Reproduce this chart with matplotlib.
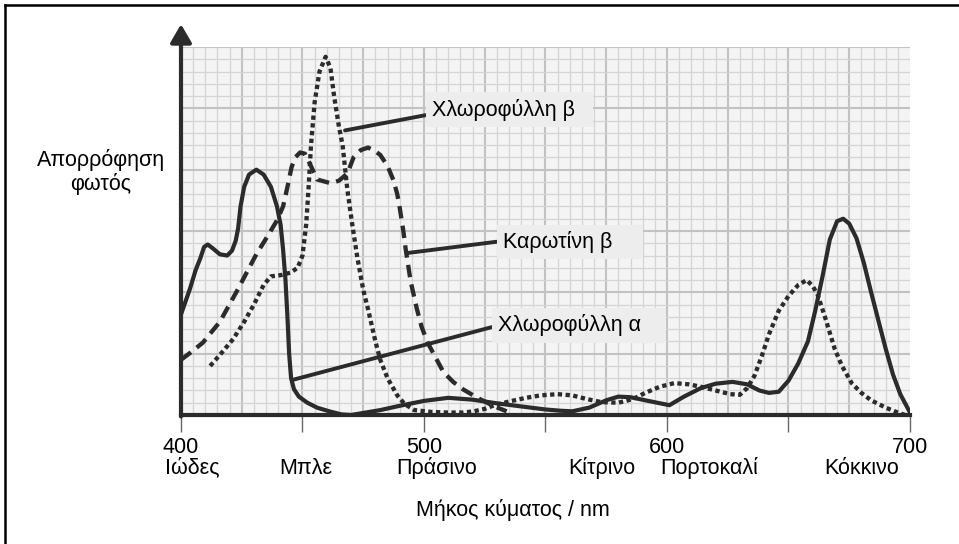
import numpy as np
import matplotlib
matplotlib.use("Agg")
import matplotlib.pyplot as plt
from matplotlib import font_manager
from matplotlib.lines import Line2D
from matplotlib.transforms import blended_transform_factory

# --- data (wavelength nm, absorbance in grid squares) ---
chl_a_nm = [400, 403.7, 406, 408, 409.5, 411, 413, 416, 419, 421, 422.5, 423.5, 424.5, 426,
            428, 431, 434, 437, 439.5, 441, 442, 443, 443.8, 444.5, 445.3, 446.5, 448.5,
            452, 456, 461, 466, 470, 476, 482, 490, 500, 510, 520, 530, 540, 550, 556,
            561, 568, 575, 580, 585, 591, 596, 601, 607, 614, 620, 627, 633, 638, 642,
            646, 650, 654, 658, 661, 664, 667, 670, 672.5, 675, 678, 681, 684, 687, 690,
            693, 696, 700]
chl_a_abs = [8.2, 10.3, 11.8, 12.8, 13.7, 13.9, 13.6, 13.1, 13.0, 13.4, 14.2, 15.2, 17.0,
             18.6, 19.6, 20.0, 19.6, 18.6, 17.0, 15.5, 13.5, 11.0, 8.0, 5.0, 3.0, 2.1, 1.5,
             1.0, 0.6, 0.3, 0.05, 0.0, 0.2, 0.4, 0.75, 1.15, 1.4, 1.25, 0.95, 0.7, 0.45,
             0.35, 0.3, 0.6, 1.2, 1.5, 1.45, 1.2, 1.0, 0.8, 1.5, 2.2, 2.55, 2.7, 2.5, 2.0,
             1.8, 1.9, 2.8, 4.2, 6.0, 8.5, 11.3, 14.3, 15.8, 16.0, 15.6, 14.4, 12.4, 10.0,
             7.7, 5.4, 3.3, 1.7, 0.2]

chl_b_nm = [412, 416, 421.5, 426, 430, 434, 437, 441, 445, 448, 450, 451.5, 452.5, 453.5,
            455, 457, 459.5, 461.5, 463, 465, 466.5, 468.5, 470.5, 472.6, 475, 477, 480,
            482, 485, 489, 492, 496, 503, 510, 516, 520.5, 525, 529, 535, 542, 548, 555,
            561, 567, 573, 580, 586, 591, 597, 603, 609, 614, 620, 626, 630, 633, 636,
            639, 642, 646, 650, 654, 657.5, 660, 662, 665, 669, 672, 676, 680, 684, 690,
            695, 698]
chl_b_abs = [4.0, 4.9, 6.2, 7.6, 9.0, 10.6, 11.3, 11.4, 11.6, 12.0, 13.0, 15.5, 18.5, 22.0,
             25.5, 28.0, 29.2, 28.3, 26.0, 23.5, 22.0, 18.3, 15.5, 12.8, 10.2, 8.6, 6.0,
             4.5, 3.0, 1.6, 0.9, 0.4, 0.25, 0.2, 0.2, 0.3, 0.5, 0.8, 1.1, 1.4, 1.6, 1.7,
             1.6, 1.3, 1.05, 1.0, 1.3, 1.8, 2.3, 2.6, 2.5, 2.3, 2.0, 1.7, 1.65, 2.2, 3.2,
             4.8, 6.6, 8.5, 9.7, 10.6, 11.0, 10.5, 9.8, 8.0, 5.4, 4.0, 2.6, 1.8, 1.2, 0.6,
             0.2, 0.0]

carot_nm = [400, 404, 409, 416, 423, 431, 436, 439.6, 442, 443.7, 445.5, 447, 449, 451,
            453, 456, 461.5, 465, 468.5, 471, 474, 477, 480, 482, 485, 487.5, 489, 490,
            491.5, 492.4, 494.5, 497, 499, 501.5, 505, 508, 512, 516, 522, 529, 534]
carot_abs = [4.5, 5.1, 5.9, 7.6, 10.1, 13.1, 14.7, 15.9, 17.0, 18.5, 20.2, 21.0, 21.4,
             21.3, 20.5, 19.2, 18.9, 19.1, 19.7, 21.0, 21.6, 21.8, 21.5, 21.2, 20.3, 19.1,
             18.0, 16.9, 15.0, 13.6, 10.9, 8.7, 7.2, 5.9, 4.6, 3.5, 2.7, 2.1, 1.4, 0.7, 0.3]

tick_nm = [400, 450, 500, 550, 600, 650, 700]
tick_labels = ["400", "", "500", "", "600", "", "700"]
band_names = ["Ιώδες", "Μπλε", "Πράσινο", "Κίτρινο", "Πορτοκαλί", "Κόκκινο"]
band_nm = [404.5, 451.4, 505.3, 573.2, 617.3, 680.2]

names = {f.name for f in font_manager.fontManager.ttflist}
if "Liberation Sans Narrow" in names:
    fam = ["Liberation Sans Narrow", "DejaVu Sans"]
    fs = 17
else:
    fam = ["Liberation Sans", "DejaVu Sans"]
    fs = 15.5
plt.rcParams["font.family"] = fam

W, H = 959, 544
fig = plt.figure(figsize=(W / 100, H / 100), dpi=100)
fig.patch.set_facecolor("white")
ax = fig.add_axes([181 / W, 1 - 415 / H, 729 / W, 368 / H])
ax.set_facecolor("#f4f4f4")
ax.set_xlim(400, 700)
ax.set_ylim(0, 30)

# graph paper
for v in np.arange(405, 700, 5):
    major = (v - 400) % 25 == 0
    ax.axvline(v, color="#c2c2c2" if major else "#d4d4d4", lw=1.5 if major else 0.9, zorder=1)
for v in np.arange(1, 31, 1):
    major = v % 5 == 0
    ax.axhline(v, color="#c2c2c2" if major else "#d4d4d4", lw=1.5 if major else 0.9, zorder=1)

ink = "#2b2b2b"
ax.plot(chl_a_nm, chl_a_abs, color=ink, lw=3.0, solid_joinstyle="round", zorder=4)
ax.plot(chl_b_nm, chl_b_abs, color=ink, lw=3.1, linestyle=(0, (1, 0.8)),
        dash_capstyle="butt", zorder=3)
ax.plot(carot_nm, carot_abs, color=ink, lw=3.1, linestyle=(0, (2.9, 1.7)),
        dash_capstyle="butt", zorder=3)

for s in ["top", "right", "left"]:
    ax.spines[s].set_visible(False)
ax.spines["bottom"].set_linewidth(3)
ax.spines["bottom"].set_color(ink)
ax.spines["bottom"].set_zorder(5)

# y axis with arrow head
ax.annotate("", xy=(0, 1.062), xytext=(0, -0.004), xycoords="axes fraction",
            arrowprops=dict(arrowstyle="-|>,head_length=0.55,head_width=0.32",
                            lw=3, color=ink, mutation_scale=20, shrinkA=0, shrinkB=0),
            annotation_clip=False, zorder=6)

ax.set_yticks([])
ax.set_xticks(tick_nm)
ax.set_xticklabels(tick_labels, fontsize=fs)
ax.tick_params(axis="x", length=12, width=1, color="#666666", pad=3.5)

band_tr = blended_transform_factory(ax.transData, fig.transFigure)
for name, x in zip(band_names, band_nm):
    ax.text(x, 1 - 468 / H, name, transform=band_tr, fontsize=fs,
            ha="center", va="center")

fig.text(513 / W, 1 - 510 / H, "Μήκος κύματος / nm", fontsize=fs, ha="center", va="center")
fig.text(101 / W, 1 - 172 / H, "Απορρόφηση\nφωτός", fontsize=fs, ha="center",
         va="center", linespacing=1.15)

# curve labels
box = dict(boxstyle="square,pad=0.3", fc="#ededed", ec="none")
labels = [("Χλωροφύλλη β  ", (467.5, 23.2), (503.3, 24.9), 0.3),
          ("Καρωτίνη β    ", (493.0, 13.2), (532.5, 14.1), 0.55),
          ("Χλωροφύλλη α   ", (445.7, 2.85), (530.5, 7.3), 0.5)]
for txt, xy, xyt, rp in labels:
    ax.annotate(txt, xy=xy, xytext=xyt, fontsize=fs, ha="left", va="center", bbox=box,
                arrowprops=dict(arrowstyle="-", lw=2.8, color=ink, relpos=(0, rp),
                                shrinkA=0, shrinkB=0), zorder=7)

# frame lines of the scanned page
fig.add_artist(Line2D([5 / W, 5 / W], [0, 1 - 5 / H], color="black", lw=1.8))
fig.add_artist(Line2D([5 / W, 1], [1 - 5 / H, 1 - 5 / H], color="black", lw=1.8))

fig.savefig("out.png", dpi=100)
